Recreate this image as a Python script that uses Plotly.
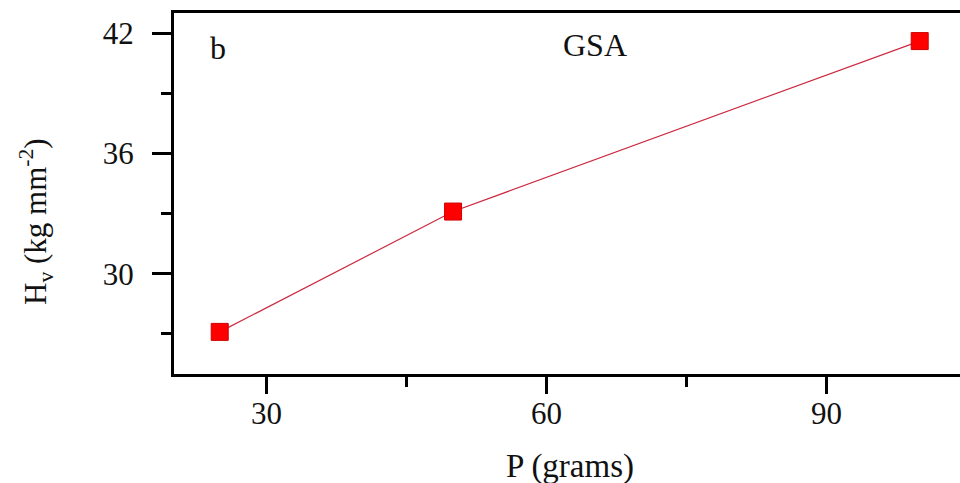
import plotly.graph_objects as go

# Vickers microhardness vs applied load
load_g = [25, 50, 100]
hardness = [27.1, 33.1, 41.6]

x_ticks = [30, 60, 90]
y_ticks = [30, 36, 42]

W, H = 960, 483
L, R, T, B = 174, 0, 13, 109
plot_w = W - L - R
plot_h = H - T - B

FONT = "Liberation Serif, Times New Roman, serif"

fig = go.Figure()
fig.add_trace(go.Scatter(
    x=load_g, y=hardness,
    mode="lines+markers",
    line=dict(color="#cc2a40", width=1.2),
    marker=dict(symbol="square", size=17, color="#ff0000",
                line=dict(color="#d00000", width=1)),
    showlegend=False,
))

axis_common = dict(
    showline=True, linecolor="black", linewidth=3,
    ticks="outside", tickcolor="black", tickwidth=3,
    showgrid=False, zeroline=False,
    tickfont=dict(family=FONT, size=31, color="#111"),
)

fig.update_xaxes(
    range=[20.1, 20.1 + plot_w / 9.333],
    tickvals=x_ticks, ticklen=17, mirror=True,
    minor=dict(dtick=15, tick0=0, ticks="outside", ticklen=10,
               tickwidth=3, tickcolor="black"),
    ticklabelstandoff=-7,
    **axis_common,
)
fig.update_yaxes(
    range=[25, 43],
    tickvals=y_ticks, ticklen=19,
    minor=dict(dtick=3, tick0=0, ticks="outside", ticklen=10,
               tickwidth=3, tickcolor="black"),
    ticklabelstandoff=12,
    **axis_common,
)

def px_x(px):
    return (px - L) / plot_w

def px_y(py):
    return (H - B - py) / plot_h

annos = [
    dict(text="b", x=px_x(218), y=px_y(48), size=32),
    dict(text="GSA", x=px_x(595), y=px_y(45), size=32),
    dict(text="P (grams)", x=px_x(570), y=px_y(466), size=33),
    dict(text="H<sub>v</sub> (kg mm<sup>-2</sup>)", x=px_x(36), y=px_y(222),
         size=31, angle=-90),
]
for a in annos:
    fig.add_annotation(
        text=a["text"], x=a["x"], y=a["y"], xref="paper", yref="paper",
        showarrow=False, xanchor="center", yanchor="middle",
        textangle=a.get("angle", 0),
        font=dict(family=FONT, size=a["size"], color="#111"),
    )

fig.update_layout(
    width=W, height=H,
    margin=dict(l=L, r=R, t=T, b=B),
    paper_bgcolor="white", plot_bgcolor="white",
)

fig.write_html("out.html")
